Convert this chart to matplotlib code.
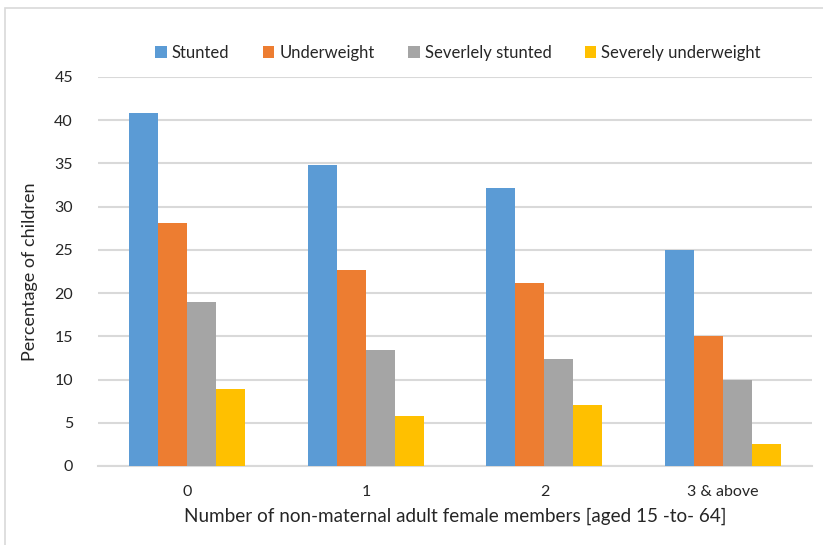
import matplotlib
matplotlib.use("Agg")
import matplotlib.pyplot as plt
from matplotlib.patches import Rectangle
import numpy as np

plt.rcParams['font.family'] = ['Lato', 'DejaVu Sans']

categories = ["0", "1", "2", "3 & above"]
series_names = ["Stunted", "Underweight", "Severlely stunted", "Severely underweight"]
stunted = [40.8, 34.8, 32.1, 25.0]
underweight = [28.1, 22.7, 21.2, 15.0]
severely_stunted = [19.0, 13.4, 12.4, 10.0]
severely_underweight = [8.9, 5.8, 7.1, 2.5]
colors = ["#5b9bd5", "#ed7d31", "#a5a5a5", "#ffc000"]
yticks = [0, 5, 10, 15, 20, 25, 30, 35, 40, 45]

fig = plt.figure(figsize=(8.23, 5.45), dpi=100)
ax = fig.add_axes([0.119, 0.145, 0.868, 0.714])

# light chart-area frame
fig.patches.append(Rectangle((5 / 823, -0.1), 1.2, 1 - 8 / 545 + 0.1,
                             transform=fig.transFigure, fill=False,
                             edgecolor="#d9d9d9", linewidth=1.2))

x = np.arange(len(categories))
width = 0.1625
all_series = [stunted, underweight, severely_stunted, severely_underweight]
for i, (vals, name, c) in enumerate(zip(all_series, series_names, colors)):
    ax.bar(x + (i - 1.5) * width, vals, width, color=c, label=name, zorder=3)

ax.set_xlim(-0.5, len(categories) - 0.5)
ax.set_ylim(0, 45)
ax.set_yticks(yticks)
ax.set_xticks(x)
ax.set_xticklabels(categories)
ax.grid(axis="y", color="#d9d9d9", linewidth=1.5, zorder=0)
for s in ["top", "right", "left"]:
    ax.spines[s].set_visible(False)
ax.spines["bottom"].set_color("#d9d9d9")
ax.spines["bottom"].set_linewidth(1.5)
ax.tick_params(axis="both", length=0, labelsize=11.5, colors="#262626")
ax.tick_params(axis="x", pad=14)
ax.tick_params(axis="y", pad=18)

ax.set_xlabel("Number of non-maternal adult female members [aged 15 -to- 64]",
              fontsize=13.6, color="#262626", labelpad=6)
ax.set_ylabel("Percentage of children", fontsize=13, color="#262626", labelpad=12)

ax.legend(loc="center", bbox_to_anchor=(0.504, 1.062), ncol=4, frameon=False,
          fontsize=12, handlelength=0.7, handleheight=0.7, handletextpad=0.3,
          columnspacing=2.0, labelcolor="#262626", borderaxespad=0)

fig.savefig("out.png", dpi=100)
